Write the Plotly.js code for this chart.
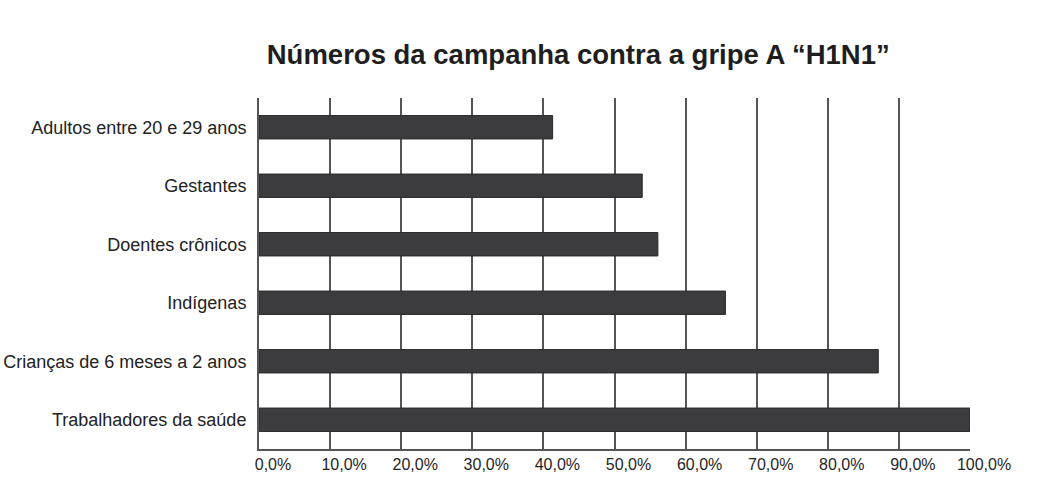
<!DOCTYPE html>
<html>
<head>
<meta charset="utf-8">
<script src="https://cdn.plot.ly/plotly-3.0.1.min.js"></script>
<style>html,body{margin:0;padding:0;background:#fff;}#chart{width:1040px;height:483px;}</style>
</head>
<body>
<div id="chart"></div>
<script>
const categories = [
  "Adultos entre 20 e 29 anos",
  "Gestantes",
  "Doentes crônicos",
  "Indígenas",
  "Crianças de 6 meses a 2 anos",
  "Trabalhadores da saúde"
];
const values = [41.3, 53.9, 56.1, 65.6, 87.1, 100.0];
const tickValues = [0, 10, 20, 30, 40, 50, 60, 70, 80, 90, 100];
const tickLabels = ["0,0%", "10,0%", "20,0%", "30,0%", "40,0%", "50,0%", "60,0%", "70,0%", "80,0%", "90,0%", "100,0%"];

const trace = {
  type: 'bar',
  orientation: 'h',
  y: categories,
  x: values,
  marker: {color: '#3c3c3e', line: {color: '#2a2a2a', width: 1}},
  hoverinfo: 'x+y'
};

const layout = {
  width: 1040,
  height: 483,
  margin: {l: 259, r: 70, t: 98, b: 34},
  paper_bgcolor: '#ffffff',
  plot_bgcolor: '#ffffff',
  bargap: 0.6,
  showlegend: false,
  font: {family: 'Liberation Sans, Arial, sans-serif', color: '#222'},
  title: {
    text: '<b>Números da campanha contra a gripe A “H1N1”</b>',
    font: {family: 'Liberation Sans, Arial, sans-serif', size: 27.5, color: '#1e1e1e'},
    x: 0.556, xref: 'container', xanchor: 'center',
    y: 0.888, yref: 'container', yanchor: 'middle'
  },
  xaxis: {
    range: [0, 100],
    tickvals: tickValues,
    ticktext: tickLabels,
    showgrid: true,
    gridcolor: '#555555',
    gridwidth: 2,
    zeroline: false,
    showline: true,
    linecolor: '#555555',
    linewidth: 2,
    ticks: '',
    ticklabelshift: 14,
    tickfont: {size: 16, color: '#262626'},
    fixedrange: true
  },
  yaxis: {
    autorange: 'reversed',
    showgrid: false,
    zeroline: false,
    showline: true,
    linecolor: '#555555',
    linewidth: 2,
    ticks: 'outside',
    ticklen: 7,
    tickcolor: 'rgba(0,0,0,0)',
    tickfont: {size: 18, color: '#222'},
    fixedrange: true
  }
};

Plotly.newPlot('chart', [trace], layout, {displayModeBar: false, staticPlot: true});
</script>
</body>
</html>
